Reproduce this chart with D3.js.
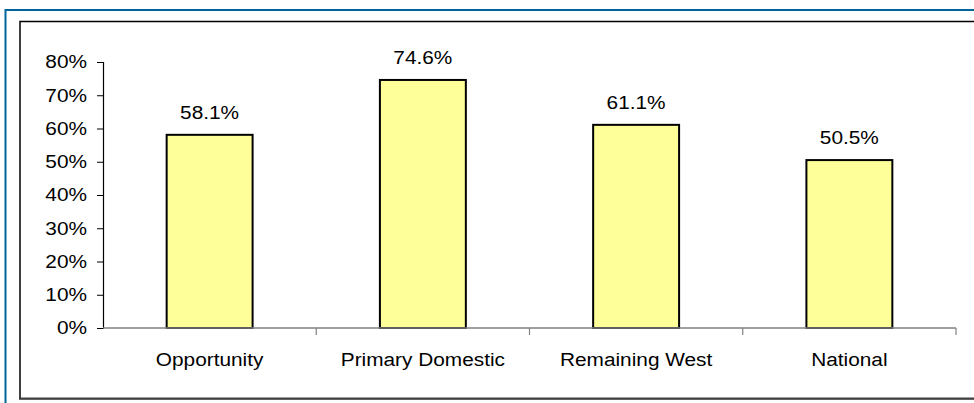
<!DOCTYPE html>
<html>
<head>
<meta charset="utf-8">
<script src="https://cdn.jsdelivr.net/npm/d3@7"></script>
<style>
  html, body { margin: 0; padding: 0; background: #fff; }
  svg { display: block; }
  text { font-family: "Liberation Sans", Arial, sans-serif; fill: #000; }
</style>
</head>
<body>
<svg id="chart" width="974" height="403"></svg>
<script>
// Share of each region, as fractions
const categories = ["Opportunity", "Primary Domestic", "Remaining West", "National"];
const shares = [0.581, 0.746, 0.611, 0.505];
const shareLabels = ["58.1%", "74.6%", "61.1%", "50.5%"];
const yTicks = [0, 0.1, 0.2, 0.3, 0.4, 0.5, 0.6, 0.7, 0.8];

const svg = d3.select("#chart");
const W = 974, H = 403;
const plot = { left: 103, right: 956, top: 62, bottom: 328 };
const FONT = 18.6;      // text size
const STRETCH = 1.12;   // horizontal widening of all lettering

// Widen a text element horizontally around its own anchor point
function stretch(sel) {
  sel.attr("transform", function () {
    const x = +this.getAttribute("x") || 0;
    return `translate(${x},0) scale(${STRETCH},1) translate(${-x},0)`;
  });
}

// Outer blue frame and inner chart-area frame
svg.append("rect")
  .attr("x", 5.5).attr("y", 10).attr("width", W + 20).attr("height", H + 20)
  .attr("fill", "none").attr("stroke", "#006699").attr("stroke-width", 2);
svg.append("rect")
  .attr("x", 20).attr("y", 21.5).attr("width", W + 20).attr("height", 377)
  .attr("fill", "#fff").attr("stroke", "#000").attr("stroke-width", 1.5);
svg.append("line")
  .attr("x1", 19).attr("x2", W).attr("y1", 398.8).attr("y2", 398.8)
  .attr("stroke", "#404040").attr("stroke-width", 2);

const x = d3.scaleBand()
  .domain(categories)
  .range([plot.left, plot.right])
  .paddingInner(0.597)
  .paddingOuter(0.2985);

const xCat = d3.scaleBand()
  .domain(categories)
  .range([plot.left, plot.right])
  .padding(0);

const y = d3.scaleLinear().domain([0, 0.8]).range([plot.bottom, plot.top]);

// Bars
svg.append("g").selectAll("rect")
  .data(categories)
  .join("rect")
  .attr("x", d => x(d))
  .attr("width", x.bandwidth())
  .attr("y", (d, i) => y(shares[i]))
  .attr("height", (d, i) => y(0) - y(shares[i]))
  .attr("fill", "#FFFF99")
  .attr("stroke", "#000")
  .attr("stroke-width", 2);

// Value labels above bars
svg.append("g").selectAll("text")
  .data(categories)
  .join("text")
  .attr("x", d => x(d) + x.bandwidth() / 2)
  .attr("y", (d, i) => y(shares[i]) - 16)
  .attr("text-anchor", "middle")
  .style("font-size", FONT + "px")
  .text((d, i) => shareLabels[i])
  .call(stretch);

// Y axis
const yAxis = svg.append("g")
  .attr("transform", `translate(${plot.left},0)`)
  .call(d3.axisLeft(y).tickValues(yTicks).tickFormat(d3.format(".0%")).tickSize(6).tickPadding(10));
yAxis.select(".domain").attr("stroke", "#000").attr("stroke-width", 1.2);
yAxis.selectAll(".tick line").attr("stroke", "#000").attr("stroke-width", 1);
yAxis.selectAll(".tick text")
  .attr("fill", "#000")
  .style("font-size", FONT + "px")
  .style("font-family", '"Liberation Sans", Arial, sans-serif')
  .call(stretch);

// X axis line with boundary ticks between categories
const xg = svg.append("g");
xg.append("line")
  .attr("x1", plot.left).attr("x2", plot.right)
  .attr("y1", y(0)).attr("y2", y(0))
  .attr("stroke", "#808080").attr("stroke-width", 1.5);
const boundaries = categories.map(c => xCat(c)).concat([xCat(categories[categories.length - 1]) + xCat.bandwidth()]);
xg.selectAll("line.bt")
  .data(boundaries.slice(1))
  .join("line")
  .attr("class", "bt")
  .attr("x1", d => d).attr("x2", d => d)
  .attr("y1", y(0)).attr("y2", y(0) + 7)
  .attr("stroke", "#808080").attr("stroke-width", 1.2);

// Category labels
xg.selectAll("text")
  .data(categories)
  .join("text")
  .attr("x", d => xCat(d) + xCat.bandwidth() / 2)
  .attr("y", 366)
  .attr("text-anchor", "middle")
  .style("font-size", FONT + "px")
  .text(d => d)
  .call(stretch);
</script>
</body>
</html>
